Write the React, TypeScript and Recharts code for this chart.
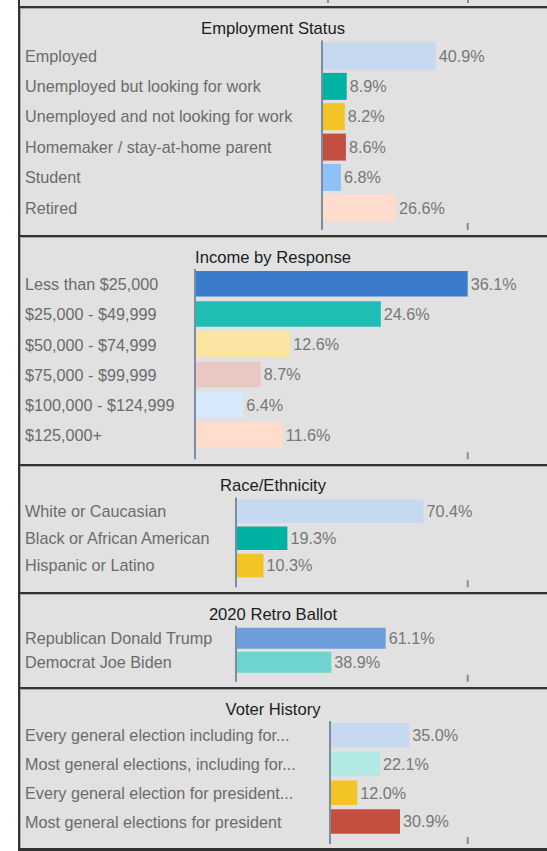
import React from 'react';
import { BarChart, Bar, XAxis, YAxis, Cell, LabelList } from 'recharts';

const employmentLabels = [
  'Employed',
  'Unemployed but looking for work',
  'Unemployed and not looking for work',
  'Homemaker / stay-at-home parent',
  'Student',
  'Retired'
];
const employmentValues = [40.9, 8.9, 8.2, 8.6, 6.8, 26.6];
const employmentColors = ['#c6d9f0', '#00b2a4', '#f4c324', '#c44f41', '#8ec0fa', '#ffdccc'];

const incomeLabels = [
  'Less than $25,000',
  '$25,000 - $49,999',
  '$50,000 - $74,999',
  '$75,000 - $99,999',
  '$100,000 - $124,999',
  '$125,000+'
];
const incomeValues = [36.1, 24.6, 12.6, 8.7, 6.4, 11.6];
const incomeColors = ['#3b7bcb', '#1fbdb4', '#fae5a3', '#eac7c3', '#d8e9fb', '#ffdccc'];

const raceLabels = ['White or Caucasian', 'Black or African American', 'Hispanic or Latino'];
const raceValues = [70.4, 19.3, 10.3];
const raceColors = ['#c6d9f0', '#00b2a4', '#f4c324'];

const ballotLabels = ['Republican Donald Trump', 'Democrat Joe Biden'];
const ballotValues = [61.1, 38.9];
const ballotColors = ['#6d9edb', '#6fd4cf'];

const voterLabels = [
  'Every general election including for...',
  'Most general elections, including for...',
  'Every general election for president...',
  'Most general elections for president'
];
const voterValues = [35.0, 22.1, 12.0, 30.9];
const voterColors = ['#c6d9f0', '#b3e9e5', '#f4c324', '#c44f41'];

const FONT = '"Liberation Sans", Arial, sans-serif';
const PAGE_W = 547;
const PLOT_RIGHT = 467.7;
const AXIS_COLOR = '#7c8ca2';

interface PanelProps {
  title: string;
  labels: string[];
  values: number[];
  colors: string[];
  top: number;
  bottom: number;
  titleY: number;
  plotTop: number;
  bandEnd: number;
  axisBottom: number;
  axisX: number;
  domainMax: number;
  barSize: number;
}

function Panel(p: PanelProps) {
  const h = p.bottom - p.top;
  const data = p.labels.map((name, i) => ({ name, value: p.values[i] }));

  const renderTick = (props: any) => (
    <text
      x={25}
      y={props.y}
      dominantBaseline="central"
      textAnchor="start"
      fill="#6b6b6b"
      fontSize={16.2}
      fontFamily={FONT}
    >
      {props.payload.value}
    </text>
  );

  // short upward tick at the end of the value axis
  const renderEndTick = (props: any) => (
    <line x1={props.x} x2={props.x} y1={props.y - 7} y2={props.y} stroke={AXIS_COLOR} strokeWidth={2} />
  );

  return (
    <>
      <div
        style={{
          position: 'absolute',
          left: 18,
          top: p.top,
          width: PAGE_W - 18,
          height: h,
          boxSizing: 'border-box',
          borderLeft: '2px solid #333',
          borderTop: '2px solid #333',
          background: '#e1e1e1',
          boxShadow: 'inset 1px 1px 0 #a8a8a8'
        }}
      />
      <div
        style={{
          position: 'absolute',
          left: 0,
          width: 546,
          top: p.titleY - 10,
          lineHeight: '20px',
          textAlign: 'center',
          fontFamily: FONT,
          fontSize: 16.6,
          color: '#1c1c1c'
        }}
      >
        {p.title}
      </div>
      <div style={{ position: 'absolute', left: 0, top: p.top }}>
        <BarChart
          width={PAGE_W}
          height={h}
          data={data}
          layout="vertical"
          margin={{
            top: p.plotTop - p.top,
            right: PAGE_W - PLOT_RIGHT,
            bottom: h - (p.axisBottom - p.top) - 1,
            left: 0
          }}
          barSize={p.barSize}
        >
          <XAxis
            type="number"
            domain={[0, p.domainMax]}
            ticks={[p.domainMax]}
            interval={0}
            height={1}
            axisLine={false}
            tickLine={false}
            tickSize={0}
            tickMargin={0}
            tick={renderEndTick}
          />
          <YAxis
            type="category"
            dataKey="name"
            width={p.axisX}
            padding={{ top: 0, bottom: p.axisBottom - p.bandEnd }}
            axisLine={{ stroke: AXIS_COLOR, strokeWidth: 2 }}
            tickLine={false}
            tick={renderTick}
            interval={0}
          />
          <Bar dataKey="value" isAnimationActive={false}>
            {data.map((d, i) => (
              <Cell key={d.name} fill={p.colors[i]} />
            ))}
            <LabelList
              dataKey="value"
              position="right"
              offset={3}
              fill="#777"
              fontSize={16.2}
              fontFamily={FONT}
              formatter={(v: any) => `${Number(v).toFixed(1)}%`}
            />
          </Bar>
        </BarChart>
      </div>
    </>
  );
}

export default function App() {
  return (
    <div
      style={{
        position: 'absolute',
        left: 0,
        top: 0,
        width: PAGE_W,
        height: 851,
        background: '#fff',
        overflow: 'hidden',
        fontFamily: FONT
      }}
    >
      {/* tail of the panel above */}
      <div
        style={{
          position: 'absolute',
          left: 18,
          top: 0,
          width: PAGE_W - 18,
          height: 6,
          boxSizing: 'border-box',
          borderLeft: '2px solid #333',
          background: '#e1e1e1'
        }}
      />
      <div style={{ position: 'absolute', left: 327, top: 0, width: 2, height: 3, background: AXIS_COLOR }} />
      <div style={{ position: 'absolute', left: 467, top: 0, width: 2, height: 3, background: AXIS_COLOR }} />

      <Panel
        title="Employment Status"
        labels={employmentLabels}
        values={employmentValues}
        colors={employmentColors}
        top={6}
        bottom={235}
        titleY={29}
        plotTop={40.5}
        bandEnd={222.7}
        axisBottom={230}
        axisX={322}
        domainMax={52.4}
        barSize={27}
      />
      <Panel
        title="Income by Response"
        labels={incomeLabels}
        values={incomeValues}
        colors={incomeColors}
        top={235}
        bottom={464}
        titleY={257.7}
        plotTop={269}
        bandEnd={450.6}
        axisBottom={459.3}
        axisX={195}
        domainMax={36.1}
        barSize={25.5}
      />
      <Panel
        title="Race/Ethnicity"
        labels={raceLabels}
        values={raceValues}
        colors={raceColors}
        top={464}
        bottom={592}
        titleY={486}
        plotTop={497.5}
        bandEnd={578.7}
        axisBottom={587.3}
        axisX={236}
        domainMax={87}
        barSize={23.5}
      />
      <Panel
        title="2020 Retro Ballot"
        labels={ballotLabels}
        values={ballotValues}
        colors={ballotColors}
        top={592}
        bottom={687}
        titleY={615}
        plotTop={625.7}
        bandEnd={674}
        axisBottom={681.7}
        axisX={236}
        domainMax={94.6}
        barSize={21}
      />
      <Panel
        title="Voter History"
        labels={voterLabels}
        values={voterValues}
        colors={voterColors}
        top={687}
        bottom={848}
        titleY={710}
        plotTop={721}
        bandEnd={836}
        axisBottom={844}
        axisX={330}
        domainMax={60.8}
        barSize={24.5}
      />
      <div style={{ position: 'absolute', left: 18, top: 848, width: PAGE_W - 18, height: 3, background: '#333' }} />
    </div>
  );
}
